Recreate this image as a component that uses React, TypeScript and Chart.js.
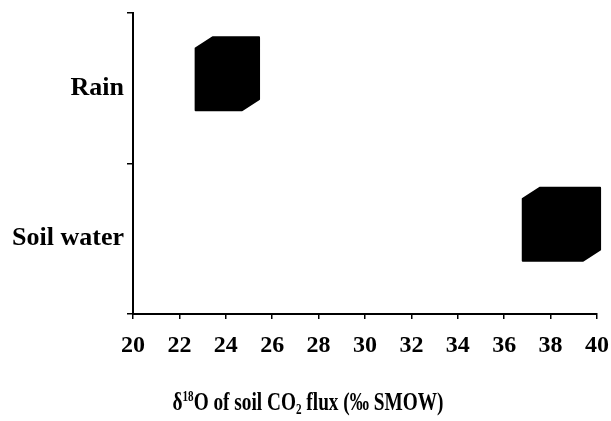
import React, { useEffect, useRef } from "react";
import { Chart, registerables } from "chart.js";

Chart.register(...registerables);

// Source water types and the δ18O range of soil CO2 flux for each
const categories = ["Rain", "Soil water"];
const rangeLow = [22.7, 36.8];
const rangeHigh = [24.7, 39.4];

const xMin = 20;
const xMax = 40;
const xStep = 2;

const SERIF = "'Liberation Serif', 'Times New Roman', serif";

// Draws each floating bar as a solid block with a receding top/right face
const blockPlugin = {
  id: "blocks",
  afterDatasetsDraw(chart: any) {
    const ctx = chart.ctx;
    const meta = chart.getDatasetMeta(0);
    const dx = 17;
    const dy = -11;
    const shift = -9;
    ctx.save();
    ctx.fillStyle = "#000";
    ctx.lineJoin = "round";
    ctx.strokeStyle = "#000";
    ctx.lineWidth = 2;
    meta.data.forEach((el: any) => {
      const p = el.getProps(["x", "y", "base", "height"], true);
      const L = Math.min(p.base, p.x);
      const R = Math.max(p.base, p.x);
      const T = p.y - p.height / 2 + shift;
      const B = p.y + p.height / 2 + shift;
      ctx.beginPath();
      ctx.moveTo(L, T);
      ctx.lineTo(L + dx, T + dy);
      ctx.lineTo(R + dx, T + dy);
      ctx.lineTo(R + dx, B + dy);
      ctx.lineTo(R, B);
      ctx.lineTo(L, B);
      ctx.closePath();
      ctx.fill();
      ctx.stroke();
    });
    ctx.restore();
  },
};

// x-axis title with superscript and subscript parts
const titleParts: { text: string; mode: "n" | "sup" | "sub" }[] = [
  { text: "δ", mode: "n" },
  { text: "18", mode: "sup" },
  { text: "O of soil CO", mode: "n" },
  { text: "2", mode: "sub" },
  { text: " flux (‰ SMOW)", mode: "n" },
];

const axisTitlePlugin = {
  id: "axisTitle",
  afterDraw(chart: any) {
    const ctx = chart.ctx;
    const size = 26;
    const small = 15;
    const baseY = 410;
    const targetWidth = 271;
    const centerX = 308;
    ctx.save();
    ctx.fillStyle = "#000";
    ctx.textBaseline = "alphabetic";
    const fontFor = (m: string) => `bold ${m === "n" ? size : small}px ${SERIF}`;
    let total = 0;
    titleParts.forEach((p) => {
      ctx.font = fontFor(p.mode);
      total += ctx.measureText(p.text).width;
    });
    const sx = targetWidth / total;
    ctx.translate(centerX - targetWidth / 2, 0);
    ctx.scale(sx, 1);
    let x = 0;
    titleParts.forEach((p) => {
      ctx.font = fontFor(p.mode);
      const y = p.mode === "sup" ? baseY - 9 : p.mode === "sub" ? baseY + 4 : baseY;
      ctx.fillText(p.text, x, y);
      x += ctx.measureText(p.text).width;
    });
    ctx.restore();
  },
};

export default function App() {
  const canvasRef = useRef<HTMLCanvasElement | null>(null);

  useEffect(() => {
    if (!canvasRef.current) return;
    const chart = new Chart(canvasRef.current, {
      type: "bar",
      data: {
        labels: categories,
        datasets: [
          {
            data: categories.map((_, i) => [rangeLow[i], rangeHigh[i]]) as any,
            backgroundColor: "rgba(0,0,0,0)",
            borderWidth: 0,
            barThickness: 62,
          },
        ],
      },
      options: {
        indexAxis: "y",
        animation: false,
        responsive: true,
        maintainAspectRatio: false,
        layout: { padding: { left: 0, right: 14, top: 13, bottom: 0 } },
        plugins: {
          legend: { display: false },
          tooltip: { enabled: false },
          title: { display: false },
        },
        scales: {
          x: {
            type: "linear",
            min: xMin,
            max: xMax,
            ticks: {
              stepSize: xStep,
              color: "#000",
              padding: 12,
              maxRotation: 0,
              font: { family: SERIF, size: 24, weight: "bold" },
            },
            grid: {
              drawOnChartArea: false,
              drawTicks: true,
              tickLength: 5,
              color: "#000",
              lineWidth: 1.5,
            },
            border: { color: "#000", width: 2 },
            afterFit(scale: any) {
              scale.height = 107;
              scale.paddingLeft = 0;
              scale.paddingRight = 0;
            },
          },
          y: {
            type: "category",
            ticks: {
              color: "#000",
              padding: 3,
              font: { family: SERIF, size: 26, weight: "bold" },
            },
            grid: {
              drawOnChartArea: false,
              drawTicks: true,
              tickLength: 6,
              color: "#000",
              lineWidth: 1.5,
            },
            border: { color: "#000", width: 2 },
            afterFit(scale: any) {
              scale.width = 133;
              scale.paddingTop = 0;
              scale.paddingBottom = 0;
            },
          },
        },
      },
      plugins: [blockPlugin, axisTitlePlugin],
    });
    return () => chart.destroy();
  }, []);

  return (
    <div
      style={{
        position: "fixed",
        left: 0,
        top: 0,
        width: 611,
        height: 421,
        background: "#fff",
      }}
    >
      <canvas ref={canvasRef} />
    </div>
  );
}
